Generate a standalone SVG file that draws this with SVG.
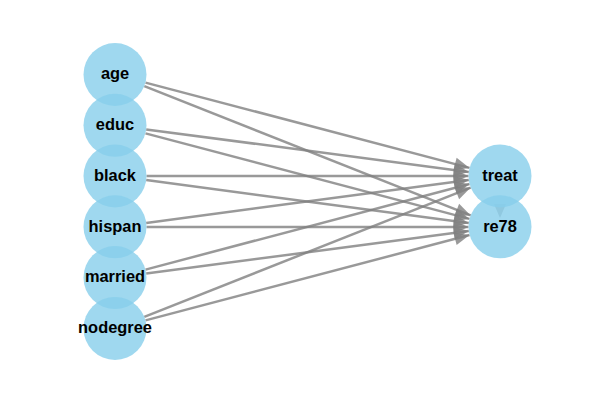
<svg xmlns="http://www.w3.org/2000/svg" width="600" height="400" viewBox="0 0 600 400">
<style>
.edge{stroke:#808080;stroke-opacity:0.8;stroke-width:2.5;fill:none;marker-end:url(#ah)}
.node circle{fill:#87CEEB;fill-opacity:0.8}
.node text{font-family:"Liberation Sans",Arial,sans-serif;font-weight:bold;font-size:16.4px;text-anchor:middle;fill:#000}
</style>
<defs>
<marker id="ah" markerUnits="userSpaceOnUse" markerWidth="16" markerHeight="14" refX="15" refY="6.5" orient="auto" overflow="visible">
<path d="M0,0 L15,6.5 L0,13 z" fill="#808080" fill-opacity="0.8"/>
</marker>
</defs>
<rect width="600" height="400" fill="#fff"/>
<g id="edges">
<line class="edge" x1="145.5" y1="82.6" x2="469.5" y2="167.9"/>
<line class="edge" x1="144.3" y1="86.1" x2="470.7" y2="215.4"/>
<line class="edge" x1="146.2" y1="129.4" x2="468.8" y2="171.9"/>
<line class="edge" x1="145.5" y1="133.4" x2="469.5" y2="218.9"/>
<line class="edge" x1="146.5" y1="176" x2="468.5" y2="176"/>
<line class="edge" x1="146.2" y1="180.1" x2="468.8" y2="222.9"/>
<line class="edge" x1="146.2" y1="222.9" x2="468.8" y2="180.1"/>
<line class="edge" x1="146.5" y1="227" x2="468.5" y2="227"/>
<line class="edge" x1="145.5" y1="269.6" x2="469.5" y2="184.0"/>
<line class="edge" x1="146.2" y1="273.5" x2="468.8" y2="231.1"/>
<line class="edge" x1="144.3" y1="316.8" x2="470.7" y2="187.6"/>
<line class="edge" x1="145.5" y1="320.4" x2="469.5" y2="235.0"/>
<path d="M494,204 L506,204 L500,218 z" fill="#808080" fill-opacity="0.6"/>
</g>
<g id="age" class="node"><circle cx="115" cy="74.5" r="31.5"/><text x="115" y="79">age</text></g>
<g id="educ" class="node"><circle cx="115" cy="125.3" r="31.5"/><text x="115" y="130">educ</text></g>
<g id="black" class="node"><circle cx="115" cy="176" r="31.5"/><text x="115" y="180.5">black</text></g>
<g id="hispan" class="node"><circle cx="115" cy="226.8" r="31.5"/><text x="115" y="231.5">hispan</text></g>
<g id="married" class="node"><circle cx="115" cy="277.6" r="31.5"/><text x="115" y="282">married</text></g>
<g id="nodegree" class="node"><circle cx="115" cy="328.4" r="31.5"/><text x="115" y="333">nodegree</text></g>
<g id="treat" class="node"><circle cx="500" cy="176" r="31.5"/><text x="500" y="181">treat</text></g>
<g id="re78" class="node"><circle cx="500" cy="226.8" r="31.5"/><text x="500" y="231.5">re78</text></g>
</svg>
